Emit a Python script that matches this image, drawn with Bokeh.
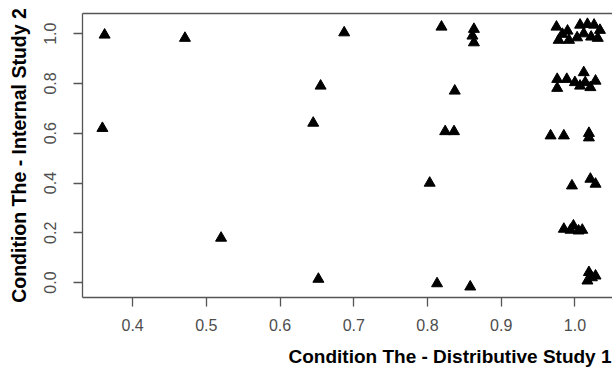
from bokeh.plotting import figure
from bokeh.models import Range1d, FixedTicker, LinearAxis, PrintfTickFormatter, Title
from bokeh.embed import file_html
from bokeh.resources import INLINE

# Data
x_vals = [0.362, 0.471, 0.359, 0.520,
          0.687, 0.655, 0.645, 0.652,
          0.819, 0.863, 0.861, 0.863, 0.837, 0.824, 0.836,
          0.803, 0.813, 0.858,
          0.975, 0.983, 0.978, 0.992, 0.990, 1.007, 1.017, 1.026, 1.034,
          1.012, 1.022, 1.031, 1.003,
          0.976, 0.989, 0.976, 1.012, 1.014, 1.007, 1.021, 1.028, 1.000,
          0.967, 0.985, 1.019, 1.019,
          0.996, 1.021, 1.028,
          0.985, 0.994, 0.998, 1.005, 1.010,
          1.019, 1.023, 1.017, 1.028]
y_vals = [0.995, 0.982, 0.620, 0.179,
          1.004, 0.790, 0.641, 0.014,
          1.027, 1.018, 0.991, 0.964, 0.770, 0.607, 0.607,
          0.400, -0.004, -0.017,
          1.027, 0.998, 0.974, 0.974, 1.011, 1.035, 1.038, 1.035, 1.014,
          1.000, 0.987, 0.982, 0.984,
          0.817, 0.817, 0.781, 0.844, 0.804, 0.790, 0.784, 0.810, 0.804,
          0.590, 0.590, 0.600, 0.582,
          0.389, 0.416, 0.396,
          0.215, 0.211, 0.228, 0.208, 0.211,
          0.041, 0.020, 0.007, 0.027]
x_ticks = [0.4, 0.5, 0.6, 0.7, 0.8, 0.9, 1.0]
y_ticks = [0.0, 0.2, 0.4, 0.6, 0.8, 1.0]
x_title = "Condition The - Distributive Study 1"
y_title = "Condition The - Internal Study 2"

FONT = "Liberation Sans"
FRAME = "#555555"
TICKLAB = "#4d4d4d"

p = figure(width=612, height=379, output_backend="svg", toolbar_location=None,
           x_range=Range1d(0.332, 1.051), y_range=Range1d(-0.060, 1.081),
           min_border_left=82, min_border_right=0, min_border_top=13,
           min_border_bottom=82)
p.outline_line_color = None
p.xgrid.visible = False
p.ygrid.visible = False
p.background_fill_color = "white"
p.border_fill_color = "white"

p.scatter(x_vals, y_vals, marker="triangle", size=11,
          fill_color="black", line_color="black")

for ax in (p.xaxis[0], p.yaxis[0]):
    ax.axis_line_color = FRAME
    ax.axis_line_width = 1.3
    ax.major_tick_line_color = FRAME
    ax.major_tick_line_width = 1.3
    ax.major_tick_out = 9
    ax.major_tick_in = 0
    ax.minor_tick_out = 0
    ax.minor_tick_in = 0
    ax.major_label_text_font = FONT
    ax.major_label_text_font_size = "16px"
    ax.major_label_text_color = TICKLAB
    ax.axis_label_text_font = FONT
    ax.axis_label_text_font_style = "bold"
    ax.axis_label_text_font_size = "19.5px"
    ax.axis_label_text_color = "black"
    ax.formatter = PrintfTickFormatter(format="%.1f")

p.xaxis[0].ticker = FixedTicker(ticks=x_ticks)
p.yaxis[0].ticker = FixedTicker(ticks=y_ticks)
p.yaxis[0].axis_label = y_title
p.xaxis[0].major_label_standoff = 12
p.yaxis[0].major_label_standoff = 17
p.yaxis[0].major_label_orientation = "vertical"
p.yaxis[0].axis_label_standoff = 12

xt = Title(text=x_title, align="right", text_font=FONT, text_font_style="bold",
           text_font_size="19px", text_color="black", standoff=20, offset=1)
p.add_layout(xt, "below")

top = LinearAxis(ticker=FixedTicker(ticks=[]), major_tick_out=0, major_tick_in=0,
                 minor_tick_out=0, minor_tick_in=0,
                 major_label_text_font_size="0px",
                 axis_line_color=FRAME, axis_line_width=1.3)
p.add_layout(top, "above")

open("out.html", "w").write(file_html(p, INLINE))
